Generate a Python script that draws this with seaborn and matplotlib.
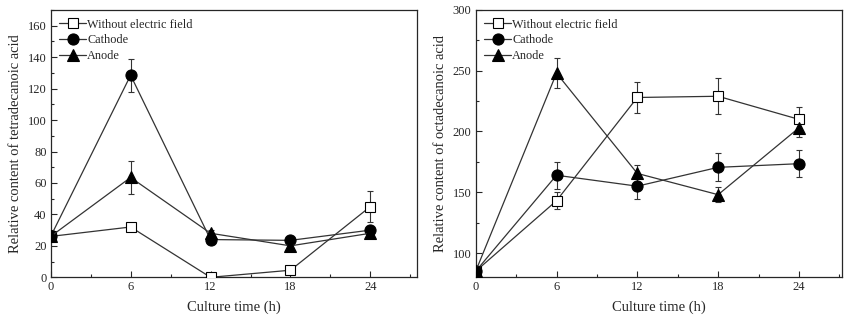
import matplotlib
matplotlib.use("Agg")
import matplotlib.pyplot as plt
from matplotlib.ticker import MultipleLocator
import pandas as pd
import seaborn as sns

hours = [0, 6, 12, 18, 24]
series_names = ["Without electric field", "Cathode", "Anode"]

# tetradecanoic acid (left panel)
tetra_without = [26, 32, 0, 4.5, 45]
tetra_without_err = [1.5, 1.5, 1, 1, 10]
tetra_cathode = [26, 128.5, 24, 23.5, 30]
tetra_cathode_err = [1.5, 10.5, 2, 1.5, 2]
tetra_anode = [26, 63.5, 28, 20, 28]
tetra_anode_err = [1.5, 10.5, 2, 2, 2]

# octadecanoic acid (right panel)
octa_without = [85, 143, 228, 229, 210]
octa_without_err = [2, 7, 12.5, 15, 10]
octa_cathode = [85, 164, 155, 170.5, 173.5]
octa_cathode_err = [2, 11, 10.5, 11.5, 11]
octa_anode = [85, 248, 165.5, 148, 203]
octa_anode_err = [2, 12.5, 7, 6, 7.5]

markers = {"Without electric field": "s", "Cathode": "o", "Anode": "^"}
msizes = {"Without electric field": 6.5, "Cathode": 8, "Anode": 8}
facecol = {"Without electric field": "white", "Cathode": "black", "Anode": "black"}

sns.set_style("ticks")
plt.rcParams["font.family"] = ["Liberation Serif", "DejaVu Serif"]
plt.rcParams["xtick.direction"] = "in"
plt.rcParams["ytick.direction"] = "in"

fig = plt.figure(figsize=(8.51, 3.21), dpi=100)
W, H = 851, 321
ax1 = fig.add_axes([50.7 / W, (H - 277.3) / H, (417 - 50.7) / W, (277.3 - 10) / H])
ax2 = fig.add_axes([475.7 / W, (H - 277.3) / H, (842 - 475.7) / W, (277.3 - 10) / H])


def draw(ax, vals, errs, ylim, ymajor, xmax, ylabel):
    for name, v, e in zip(series_names, vals, errs):
        df = pd.DataFrame({"time": hours, "value": v})
        ax.errorbar(hours, v, yerr=e, fmt="none", ecolor="#333333",
                    elinewidth=0.8, capsize=2.5, capthick=0.8, zorder=2)
        sns.lineplot(data=df, x="time", y="value", ax=ax, color="#333333",
                     linewidth=0.9, marker=markers[name], markersize=msizes[name],
                     markerfacecolor=facecol[name], markeredgecolor="black",
                     markeredgewidth=0.8, label=name, zorder=3)
    ax.set_xlim(0, xmax)
    ax.set_ylim(*ylim)
    ax.xaxis.set_major_locator(MultipleLocator(6))
    ax.xaxis.set_minor_locator(MultipleLocator(3))
    ax.yaxis.set_major_locator(MultipleLocator(ymajor))
    ax.yaxis.set_minor_locator(MultipleLocator(ymajor / 2))
    ax.tick_params(which="major", length=4.5, width=0.8, labelsize=9, pad=3)
    ax.tick_params(which="minor", length=2.5, width=0.8)
    for s in ax.spines.values():
        s.set_linewidth(0.9)
        s.set_visible(True)
    ax.set_xlabel("Culture time (h)", fontsize=10.5, labelpad=5)
    ax.set_ylabel(ylabel, fontsize=10.5, labelpad=4)
    leg = ax.legend(loc="upper left", frameon=False, fontsize=8.8,
                    handlelength=2.2, handletextpad=0.1, labelspacing=0.3,
                    borderaxespad=0.4, borderpad=0.3)
    for h in leg.legend_handles:
        h.set_linewidth(0.9)


draw(ax1, [tetra_without, tetra_cathode, tetra_anode],
     [tetra_without_err, tetra_cathode_err, tetra_anode_err],
     (0, 170), 20, 27.5, "Relative content of tetradecanoic acid")
draw(ax2, [octa_without, octa_cathode, octa_anode],
     [octa_without_err, octa_cathode_err, octa_anode_err],
     (80, 300), 50, 27.2, "Relative content of octadecanoic acid")

fig.savefig("out.png", dpi=100)
